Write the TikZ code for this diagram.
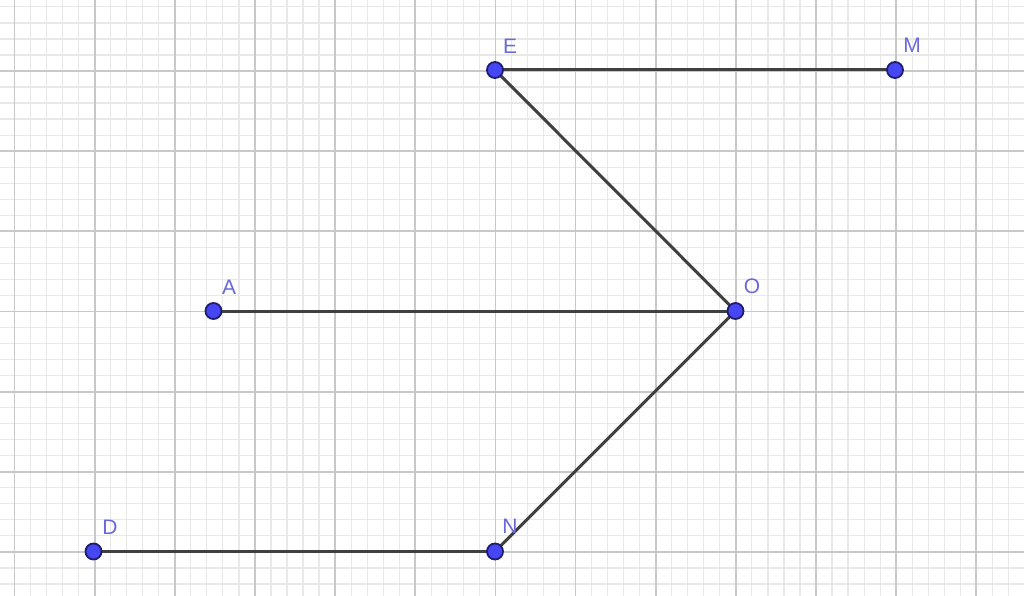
\documentclass[tikz,border=0pt]{standalone}
\usepackage{fontspec}
\setmainfont{Liberation Sans}
\usetikzlibrary{backgrounds}
\definecolor{minorgrid}{RGB}{232,232,232}
\definecolor{majorgrid}{RGB}{200,200,200}
\definecolor{segcol}{RGB}{64,64,64}
\definecolor{ptfill}{RGB}{70,70,245}
\definecolor{ptdraw}{RGB}{30,30,110}
\definecolor{lblcol}{RGB}{105,105,220}
\tikzset{
  pt/.style={circle, fill=ptfill, draw=ptdraw, line width=1.8pt, minimum size=16pt, inner sep=0pt},
  lbl/.style={text=lblcol, font=\fontsize{21}{21}\selectfont, inner sep=0pt},
  seg/.style={draw=segcol, line width=3pt},
  minorline/.style={draw=minorgrid, line width=1.2pt},
  majorline/.style={draw=majorgrid, line width=1.8pt}
}
\begin{document}
\begin{tikzpicture}[x=1pt,y=-1pt]
\useasboundingbox (0,0) rectangle (1024,596);
% points
\node[pt] (E) at (495,70) {};
\node[pt] (M) at (895,70) {};
\node[pt] (A) at (213.5,311) {};
\node[pt] (O) at (735.5,311) {};
\node[pt] (D) at (93.5,551.5) {};
\node[pt] (N) at (495,551.5) {};
% labels
\node[lbl] (lE) at (510,46) {E};
\node[lbl] (lM) at (912,45) {M};
\node[lbl] (lA) at (229,287) {A};
\node[lbl] (lO) at (752,286) {O};
\node[lbl] (lD) at (110,527) {D};
\node[lbl] (lN) at (510,526) {N};
\begin{scope}[on background layer]
  \fill[white] (0,0) rectangle (1024,596);
  % minor grid
  \foreach \i in {-1,...,63} {
    \draw[minorline] ({14.5+16.03*\i},0) -- ({14.5+16.03*\i},596);
  }
  \foreach \j in {0,...,38} {
    \draw[minorline] (0,{-9.15+16.03*\j}) -- (1024,{-9.15+16.03*\j});
  }
  % major grid
  \foreach \i in {0,...,12} {
    \draw[majorline] ({14.5+80.15*\i},0) -- ({14.5+80.15*\i},596);
  }
  \foreach \j in {1,...,7} {
    \draw[majorline] (0,{-9.15+80.15*\j}) -- (1024,{-9.15+80.15*\j});
  }
  % segments
  \draw[seg] (E.center) -- (M.center);
  \draw[seg] (E.center) -- (O.center);
  \draw[seg] (A.center) -- (O.center);
  \draw[seg] (O.center) -- (N.center);
  \draw[seg] (D.center) -- (N.center);
\end{scope}
\end{tikzpicture}
\end{document}
